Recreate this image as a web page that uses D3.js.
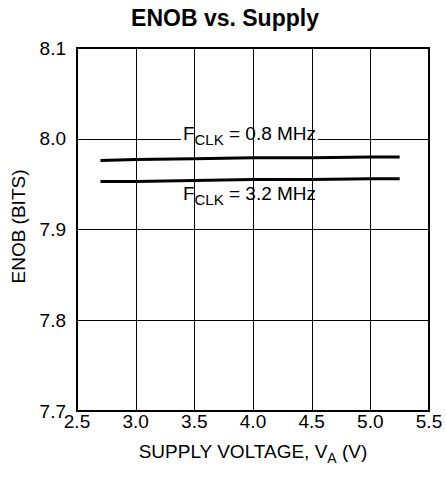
<!DOCTYPE html>
<html>
<head>
<meta charset="utf-8">
<script src="https://cdn.jsdelivr.net/npm/d3@7"></script>
<style>
  html, body { margin: 0; padding: 0; background: #fff; }
  svg { display: block; }
  text { font-family: "Liberation Sans", Arial, sans-serif; fill: #000; }
</style>
</head>
<body>
<svg id="chart" width="446" height="477"></svg>
<script>
// ---- data ----
const supplyVoltage = [2.7, 3.0, 3.5, 4.0, 4.5, 5.0, 5.25];
const enobF08 = [7.976, 7.977, 7.978, 7.979, 7.979, 7.980, 7.980];
const enobF32 = [7.953, 7.953, 7.954, 7.955, 7.955, 7.956, 7.956];
const xTicks = [2.5, 3.0, 3.5, 4.0, 4.5, 5.0, 5.5];
const yTicks = [7.7, 7.8, 7.9, 8.0, 8.1];
const seriesLabels = [
  { main: "F", sub: "CLK", rest: " = 0.8 MHz" },
  { main: "F", sub: "CLK", rest: " = 3.2 MHz" }
];

// ---- layout ----
const L = 77, T = 48, W = 352, H = 363;
const svg = d3.select("#chart");
const x = d3.scaleLinear().domain([2.5, 5.5]).range([L, L + W]);
const y = d3.scaleLinear().domain([7.7, 8.1]).range([T + H, T]);

// title
svg.append("text")
  .attr("x", 225).attr("y", 26)
  .attr("text-anchor", "middle")
  .style("font-size", "23px").style("font-weight", "bold")
  .text("ENOB vs. Supply");

// horizontal gridlines
svg.append("g").selectAll("line")
  .data(yTicks.slice(1, -1)).join("line")
  .attr("x1", L).attr("x2", L + W)
  .attr("y1", d => Math.round(y(d)) + 0.5).attr("y2", d => Math.round(y(d)) + 0.5)
  .attr("stroke", "#000").attr("stroke-width", 1);

// label white backgrounds (drawn over horizontal gridlines)
const labelPos = [
  { xv: 3.97, yv: 7.9986 },
  { xv: 3.97, yv: 7.932 }
];
const bgG = svg.append("g");

// vertical gridlines
svg.append("g").selectAll("line")
  .data(xTicks.slice(1, -1)).join("line")
  .attr("x1", d => Math.round(x(d)) + 0.5).attr("x2", d => Math.round(x(d)) + 0.5)
  .attr("y1", T).attr("y2", T + H)
  .attr("stroke", "#000").attr("stroke-width", 1);

// lines
const line = d3.line().x((d, i) => x(supplyVoltage[i])).y(d => y(d));
[enobF08, enobF32].forEach(s => {
  svg.append("path").datum(s)
    .attr("d", line)
    .attr("fill", "none").attr("stroke", "#000").attr("stroke-width", 3);
});

// labels
const labG = svg.append("g");
seriesLabels.forEach((lab, i) => {
  const bx = x(labelPos[i].xv), by = y(labelPos[i].yv);
  const t = labG.append("text")
    .attr("x", bx).attr("y", by)
    .attr("text-anchor", "middle")
    .style("font-size", "19px");
  t.append("tspan").text(lab.main);
  t.append("tspan").attr("dy", 5).style("font-size", "15px").text(lab.sub);
  t.append("tspan").attr("dy", -5).text(lab.rest);
  const bb = t.node().getBBox();
  bgG.append("rect")
    .attr("x", bb.x - 2).attr("y", by - 15)
    .attr("width", bb.width + 4).attr("height", 20)
    .attr("fill", "#fff");
});

// frame
svg.append("rect")
  .attr("x", L).attr("y", T).attr("width", W).attr("height", H)
  .attr("fill", "none").attr("stroke", "#000").attr("stroke-width", 2);

// y tick labels
svg.append("g").selectAll("text")
  .data(yTicks).join("text")
  .attr("x", L - 11).attr("y", d => y(d))
  .attr("dy", "0.35em")
  .attr("text-anchor", "end")
  .style("font-size", "19px")
  .text(d => d3.format(".1f")(d));

// x tick labels
svg.append("g").selectAll("text")
  .data(xTicks).join("text")
  .attr("x", d => x(d)).attr("y", 428)
  .attr("text-anchor", "middle")
  .style("font-size", "19px")
  .text(d => d3.format(".1f")(d));

// x axis title
const xt = svg.append("text")
  .attr("x", L + W / 2).attr("y", 458)
  .attr("text-anchor", "middle")
  .style("font-size", "19px");
xt.append("tspan").text("SUPPLY VOLTAGE, V");
xt.append("tspan").attr("dy", 5).style("font-size", "14px").text("A");
xt.append("tspan").attr("dy", -5).text(" (V)");

// y axis title
svg.append("text")
  .attr("transform", `translate(25, ${T + H / 2 - 3}) rotate(-90)`)
  .attr("text-anchor", "middle")
  .style("font-size", "19px")
  .text("ENOB (BITS)");
</script>
</body>
</html>
